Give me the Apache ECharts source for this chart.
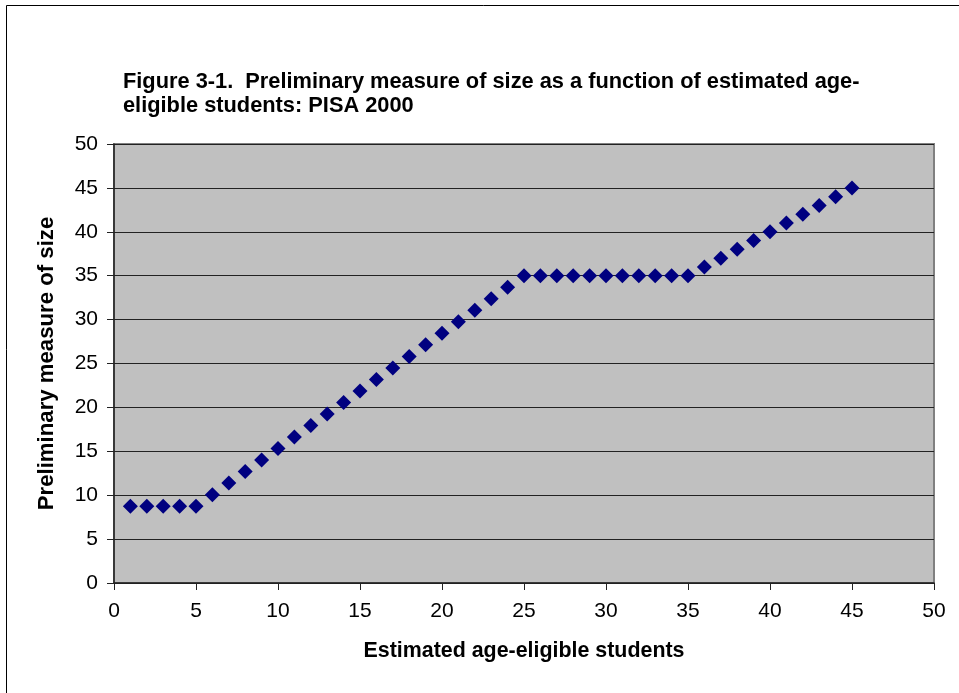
<!DOCTYPE html>
<html>
<head>
<meta charset="utf-8">
<script src="https://cdn.jsdelivr.net/npm/echarts@6/dist/echarts.min.js"></script>
<style>
  html, body { margin: 0; padding: 0; background: #fff; }
  #chart { width: 959px; height: 693px; }
</style>
</head>
<body>
<div id="chart"></div>
<script>
// estimated age-eligible students
const students = [1, 2, 3, 4, 5, 6, 7, 8, 9, 10, 11, 12, 13, 14, 15, 16, 17, 18, 19, 20,
  21, 22, 23, 24, 25, 26, 27, 28, 29, 30, 31, 32, 33, 34, 35, 36, 37, 38, 39, 40,
  41, 42, 43, 44, 45]
// preliminary measure of size
const sizeMeasure = [8.75, 8.75, 8.75, 8.75, 8.75, 10.06, 11.38, 12.69, 14, 15.31,
  16.63, 17.94, 19.25, 20.56, 21.88, 23.19, 24.5, 25.81, 27.13, 28.44,
  29.75, 31.06, 32.38, 33.69, 35, 35, 35, 35, 35, 35, 35, 35, 35, 35, 35,
  36, 37, 38, 39, 40, 41, 42, 43, 44, 45]

const titleLines = [
  'Figure 3-1.  Preliminary measure of size as a function of estimated age-',
  'eligible students: PISA 2000'
]

const font = '"Liberation Sans", Arial, sans-serif'

const chart = echarts.init(document.getElementById('chart'))

chart.setOption({
  animation: false,
  textStyle: { fontFamily: font },
  title: {
    text: titleLines.join('\n'),
    left: 118,
    top: 65,
    textStyle: { fontSize: 21.8, fontWeight: 'bold', color: '#000', lineHeight: 24, fontFamily: font }
  },
  graphic: [
    {
      type: 'rect',
      shape: { x: 6.5, y: 5.5, width: 1000, height: 1000 },
      style: { fill: 'none', stroke: '#000', lineWidth: 1 },
      silent: true
    }
  ],
  grid: {
    left: 114,
    top: 144,
    right: 25,
    bottom: 110,
    show: true,
    backgroundColor: '#c0c0c0',
    borderColor: '#808080',
    borderWidth: 2
  },
  xAxis: {
    type: 'value',
    min: 0,
    max: 50,
    interval: 5,
    name: 'Estimated age-eligible students',
    nameLocation: 'middle',
    nameGap: 58,
    nameTextStyle: { fontSize: 21.4, fontWeight: 'bold', color: '#000', fontFamily: font },
    axisLine: { show: true, lineStyle: { color: '#222', width: 1.5 } },
    axisTick: { show: true, length: 7, lineStyle: { color: '#222' } },
    axisLabel: { fontSize: 21, color: '#000', margin: 18, fontFamily: font },
    splitLine: { show: false }
  },
  yAxis: {
    type: 'value',
    min: 0,
    max: 50,
    interval: 5,
    name: 'Preliminary measure of size',
    nameLocation: 'middle',
    nameGap: 56,
    nameTextStyle: { fontSize: 22.2, fontWeight: 'bold', color: '#000', fontFamily: font },
    axisLine: { show: true, lineStyle: { color: '#222', width: 1.5 } },
    axisTick: { show: true, length: 7, lineStyle: { color: '#222' } },
    axisLabel: { fontSize: 21, color: '#000', margin: 16, fontFamily: font },
    splitLine: { show: true, lineStyle: { color: '#222', width: 1 } }
  },
  series: [
    {
      type: 'scatter',
      symbol: 'diamond',
      symbolSize: 15,
      itemStyle: { color: '#000080', opacity: 1 },
      data: students.map((s, i) => [s, sizeMeasure[i]])
    }
  ]
})
</script>
</body>
</html>
